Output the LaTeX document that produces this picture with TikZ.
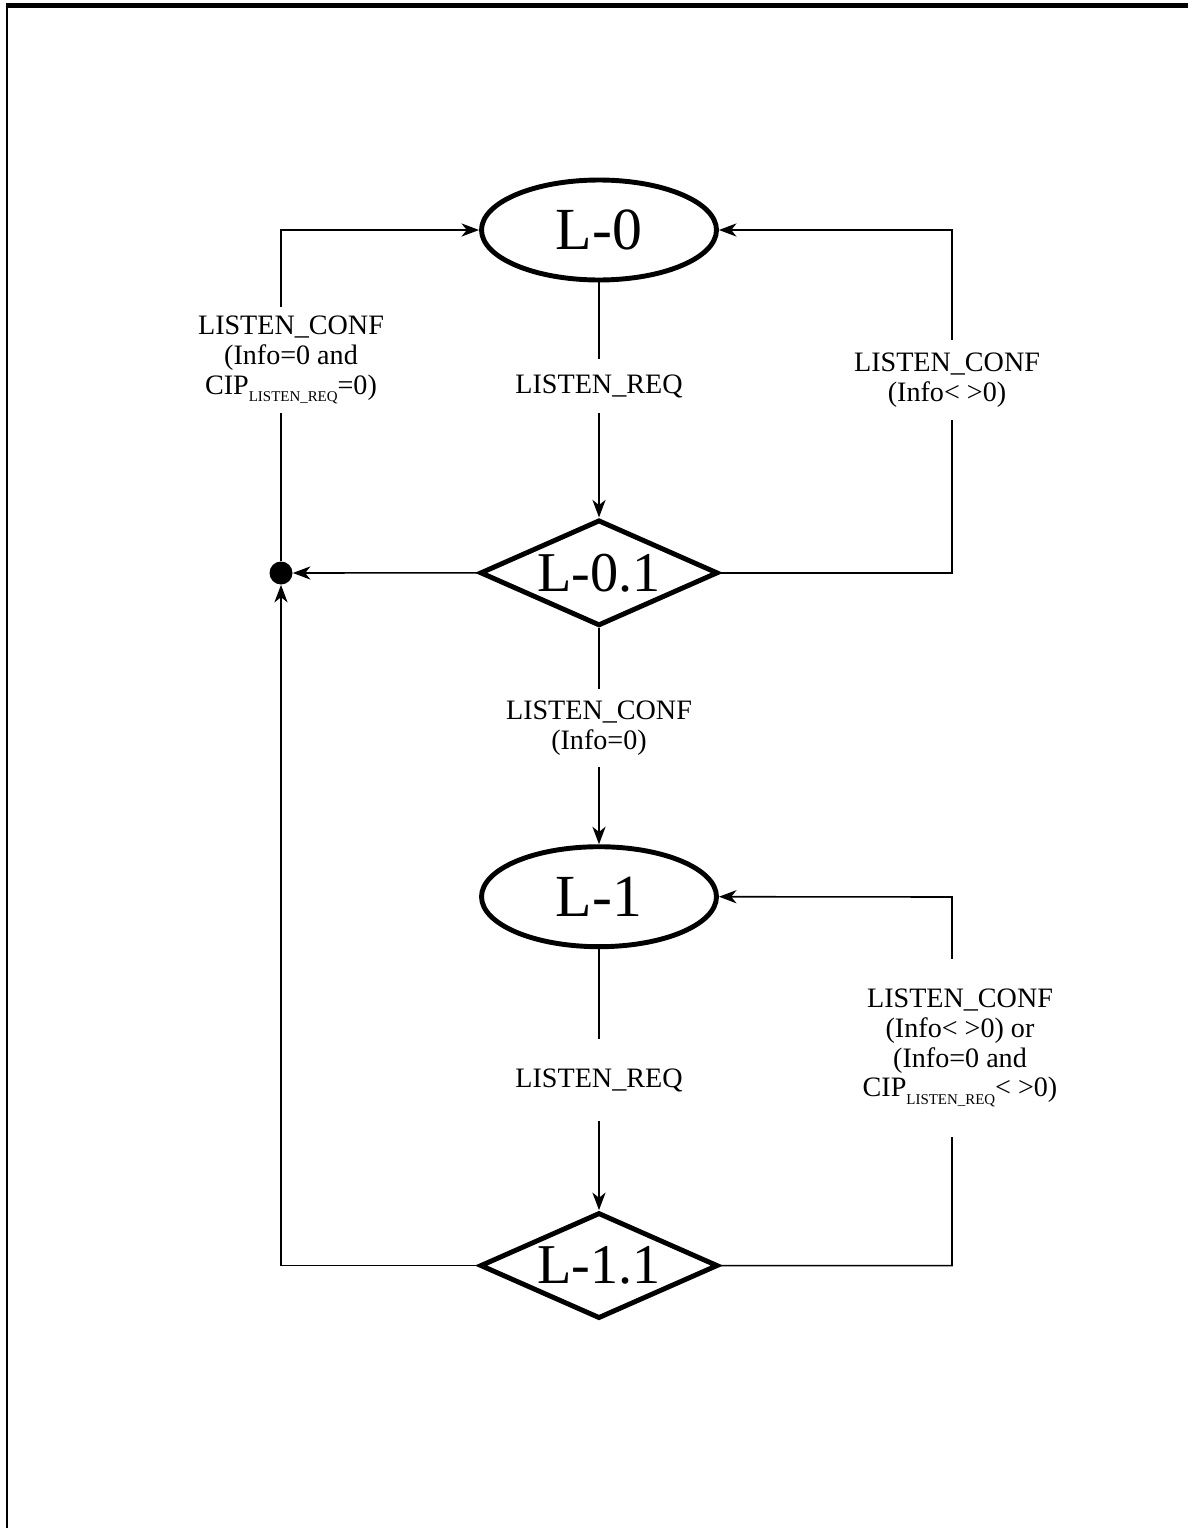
\documentclass[tikz,border=0pt]{standalone}
\usepackage{fontspec}
\setmainfont{Liberation Serif}
\usepackage{tikz}
\usetikzlibrary{shapes.geometric, arrows.meta, positioning}

\newcommand{\cipsub}[1]{\raisebox{-4.5pt}{\fontsize{8.5}{9}\selectfont #1}}

\begin{document}
\begin{tikzpicture}[x=0.02cm, y=-0.02cm]
    % Define styles for the nodes
    \tikzstyle{ellstate} = [
        ellipse, draw, line width=2.8pt, inner sep=0,
        minimum width=4.7cm, minimum height=2.0cm,
        font=\fontsize{34}{40}\selectfont
    ]

    \tikzstyle{decision} = [
        diamond, draw, line width=2.8pt, inner sep=0, aspect=2.2,
        minimum width=4.76cm, minimum height=2.12cm,
        font=\fontsize{32}{38}\selectfont
    ]

    \tikzstyle{cond} = [
        fill=white, align=center, inner xsep=2pt,
        font=\fontsize{16}{17}\selectfont
    ]

    \tikzstyle{junction} = [circle, fill, inner sep=0, minimum size=0.46cm]

    \tikzstyle{arrow} = [line width=0.9pt, >={Stealth[length=10pt, width=7.5pt, inset=3pt]}]

    \useasboundingbox (0,0) rectangle (1188,1528);

    % Frame
    \draw[line width=2.8pt] (6,5.5) -- (1188,5.5);
    \draw[line width=1.4pt] (7,5.5) -- (7,1528);

    % States
    \node[ellstate]                      (l0)  at (599,230) {L-0};
    \node[decision, below=4.7cm of l0]   (l01)              {L-0.1};
    \node[ellstate, below=4.32cm of l01] (l1)               {L-1};
    \node[decision, below=5.22cm of l1]  (l11)              {L-1.1};

    \node[junction] (jn) at (281,573) {};

    \coordinate (rtop) at (952,230);
    \coordinate (rlow) at (952,897);

    % Arrows down the middle
    \draw[arrow, ->] (l0.south)  to (l01.north);
    \draw[arrow, ->] (l01.south) to (l1.north);
    \draw[arrow, ->] (l1.south)  to (l11.north);

    % Arrows back to L-0
    \draw[arrow, ->] (l01.west) to (jn);
    \draw[arrow, ->] (jn) |- (l0.west);
    \draw[arrow, ->] (l01.east) -| (rtop) -- (l0.east);

    % Arrows back from L-1.1
    \draw[arrow, ->] (l11.west) -| (jn);
    \draw[arrow, ->] (l11.east) -| (rlow) -- (l1.east);

    % Conditions
    \node[cond, inner ysep=8.5pt] (req0)    at (599,386)  {LISTEN\_REQ};
    \node[cond, inner ysep=5pt]   (conf0)   at (291,360)
        {LISTEN\_CONF\\(Info=0 and\\CIP\cipsub{LISTEN\_REQ}=0)};
    \node[cond, inner ysep=7.5pt] (confne0) at (947,380)
        {LISTEN\_CONF\\(Info< >0)};
    \node[cond, inner ysep=6.5pt] (conf01)  at (599,728)
        {LISTEN\_CONF\\(Info=0)};
    \node[cond, inner ysep=17pt]  (req1)    at (599,1080) {LISTEN\_REQ};
    \node[cond, inner ysep=17pt]  (confne1) at (960,1048)
        {LISTEN\_CONF\\(Info< >0) or\\(Info=0 and\\CIP\cipsub{LISTEN\_REQ}< >0)};

\end{tikzpicture}
\end{document}
